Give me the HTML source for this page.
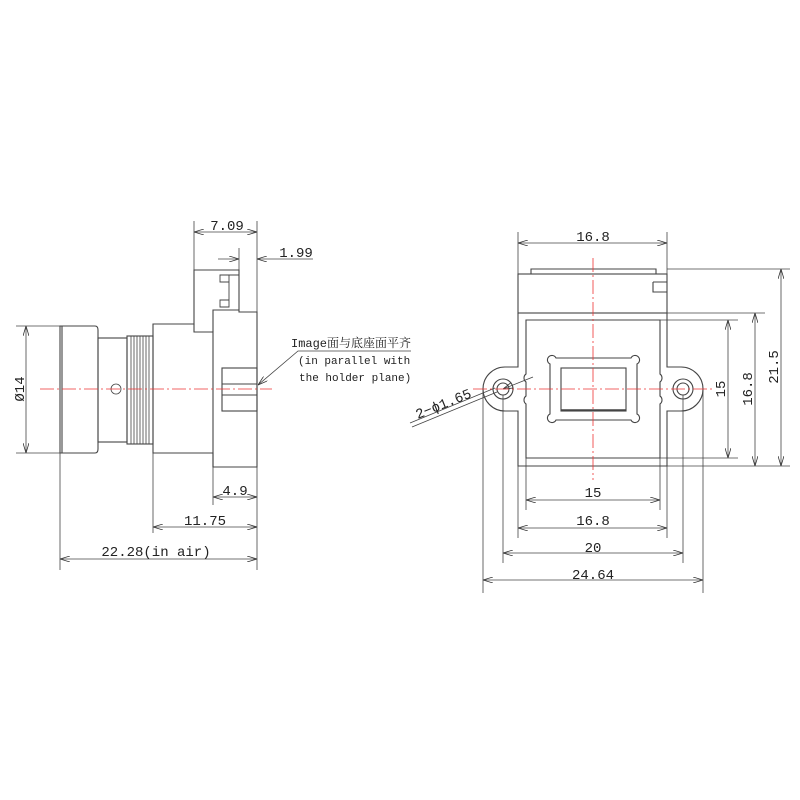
<!DOCTYPE html>
<html><head><meta charset="utf-8"><style>body{margin:0;background:#fff}svg{display:block}text{font-family:"Liberation Mono","Noto Serif CJK SC",monospace;fill:#222}</style></head><body>
<svg width="800" height="800" viewBox="0 0 800 800" xmlns="http://www.w3.org/2000/svg">
<defs><marker id="a" viewBox="0 0 10 6" refX="10" refY="3" markerWidth="10" markerHeight="6" orient="auto-start-reverse" markerUnits="userSpaceOnUse"><path d="M0,0L10,3L0,6" fill="none" stroke="#333" stroke-width="0.8"/></marker></defs>
<g stroke="#444" stroke-width="1.1" fill="none">
<path d="M60,326 H95 Q98,326 98,330 V449 Q98,453 95,453 H60 Z"/>
<line x1="62" y1="326" x2="62" y2="453"/>
<rect x="98" y="338" width="29" height="104"/>
<rect x="127" y="336" width="26" height="108"/>
<g stroke-width="0.8"><line x1="131" y1="336" x2="131" y2="444"/><line x1="134" y1="336" x2="134" y2="444"/><line x1="137" y1="336" x2="137" y2="444"/><line x1="140" y1="336" x2="140" y2="444"/><line x1="143" y1="336" x2="143" y2="444"/><line x1="146" y1="336" x2="146" y2="444"/><line x1="149" y1="336" x2="149" y2="444"/></g>
<path d="M153,324 H194 V270 H239 V312 H257 V467 H213 V453 H153 Z"/>
<path d="M194,324 V332 H213 V467"/>
<path d="M213,332 V310 H239"/>
<path d="M239,275 H229 V282 H220 V275 H229 M229,300 V307 H220 V300 H229 V282" stroke-width="0.9"/>
<rect x="222" y="368" width="35" height="43"/>
<line x1="222" y1="384" x2="257" y2="384"/><line x1="222" y1="395" x2="257" y2="395"/>
<circle cx="116" cy="389" r="5" stroke-width="0.8"/>
<g stroke-width="0.8">
<line x1="16" y1="326" x2="60" y2="326"/><line x1="16" y1="453" x2="60" y2="453"/>
<line x1="26" y1="326" x2="26" y2="453" marker-start="url(#a)" marker-end="url(#a)"/>
<line x1="194" y1="221" x2="194" y2="270"/><line x1="257" y1="221" x2="257" y2="570"/>
<line x1="194" y1="232" x2="257" y2="232" marker-start="url(#a)" marker-end="url(#a)"/>
<line x1="239" y1="248" x2="239" y2="270"/>
<line x1="218" y1="259" x2="239" y2="259" marker-end="url(#a)"/>
<line x1="313" y1="259" x2="257" y2="259" marker-end="url(#a)"/>
<line x1="213" y1="467" x2="213" y2="505"/>
<line x1="213" y1="497" x2="257" y2="497" marker-start="url(#a)" marker-end="url(#a)"/>
<line x1="153" y1="453" x2="153" y2="533"/>
<line x1="153" y1="527" x2="257" y2="527" marker-start="url(#a)" marker-end="url(#a)"/>
<line x1="60" y1="453" x2="60" y2="570"/>
<line x1="60" y1="559" x2="257" y2="559" marker-start="url(#a)" marker-end="url(#a)"/>
<polyline points="411,351 298,351 258,385" marker-end="url(#a)"/>
</g>
<path d="M531,274 V269 H656 V274"/>
<rect x="518" y="274" width="149" height="39"/>
<path d="M653,282 H667 M653,282 V292 H667"/>
<path d="M518,313 V367 H505 A22,22 0 0 0 505,411 H518 V466 H667 V411 H681 A22,22 0 0 0 681,367 H667 V313"/>
<path d="M526,458 V404 A5,5 0 0 1 526,396 V382 A5,5 0 0 1 526,374 V320 H660 V374 A5,5 0 0 1 660,382 V396 A5,5 0 0 1 660,404 V458 Z"/>
<circle cx="503" cy="389" r="10"/><circle cx="503" cy="389" r="6"/>
<circle cx="683" cy="389" r="10"/><circle cx="683" cy="389" r="6"/>
<path d="M556,358 H631 A4.5,4.5 0 1 1 637,364 V414 A4.5,4.5 0 1 1 631,420 H556 A4.5,4.5 0 1 1 550,414 V364 A4.5,4.5 0 1 1 556,358 Z"/>
<rect x="561" y="368" width="65" height="43"/>
<line x1="561" y1="410" x2="626" y2="410" stroke-width="1.5"/>
<g stroke-width="0.8">
<line x1="518" y1="232" x2="518" y2="274"/><line x1="667" y1="232" x2="667" y2="274"/>
<line x1="518" y1="243" x2="667" y2="243" marker-start="url(#a)" marker-end="url(#a)"/>
<line x1="660" y1="320" x2="738" y2="320"/><line x1="660" y1="458" x2="738" y2="458"/>
<line x1="728" y1="320" x2="728" y2="458" marker-start="url(#a)" marker-end="url(#a)"/>
<line x1="667" y1="313" x2="765" y2="313"/><line x1="667" y1="466" x2="790" y2="466"/>
<line x1="755" y1="313" x2="755" y2="466" marker-start="url(#a)" marker-end="url(#a)"/>
<line x1="667" y1="269" x2="790" y2="269"/>
<line x1="781" y1="269" x2="781" y2="466" marker-start="url(#a)" marker-end="url(#a)"/>
<line x1="526" y1="458" x2="526" y2="510"/><line x1="660" y1="458" x2="660" y2="510"/>
<line x1="526" y1="500" x2="660" y2="500" marker-start="url(#a)" marker-end="url(#a)"/>
<line x1="518" y1="466" x2="518" y2="538"/><line x1="667" y1="466" x2="667" y2="538"/>
<line x1="518" y1="528" x2="667" y2="528" marker-start="url(#a)" marker-end="url(#a)"/>
<line x1="503" y1="395" x2="503" y2="563"/><line x1="683" y1="395" x2="683" y2="563"/>
<line x1="503" y1="553" x2="683" y2="553" marker-start="url(#a)" marker-end="url(#a)"/>
<line x1="483" y1="389" x2="483" y2="593"/><line x1="703" y1="389" x2="703" y2="593"/>
<line x1="483" y1="580" x2="703" y2="580" marker-start="url(#a)" marker-end="url(#a)"/>
<line x1="533" y1="377" x2="503" y2="389" marker-end="url(#a)"/>
<line x1="412" y1="427" x2="497" y2="392"/>
<line x1="410" y1="423" x2="495" y2="388"/>
</g>
</g>
<g stroke="#e33" stroke-width="0.8" stroke-dasharray="14,3,2,3" fill="none">
<line x1="40" y1="389" x2="272" y2="389"/>
<line x1="593" y1="258" x2="593" y2="480"/>
<line x1="473" y1="389" x2="715" y2="389"/>
</g>
<g font-size="14">
<text x="227" y="230" text-anchor="middle">7.09</text>
<text x="296" y="257" text-anchor="middle">1.99</text>
<text x="235" y="495" text-anchor="middle">4.9</text>
<text x="205" y="525" text-anchor="middle">11.75</text>
<text x="156" y="556" text-anchor="middle">22.28(in air)</text>
<text transform="translate(24,389) rotate(-90)" text-anchor="middle">Ø14</text>
<text x="593" y="241" text-anchor="middle">16.8</text>
<text x="593" y="497" text-anchor="middle">15</text>
<text x="593" y="525" text-anchor="middle">16.8</text>
<text x="593" y="552" text-anchor="middle">20</text>
<text x="593" y="579" text-anchor="middle">24.64</text>
<text transform="translate(725,389) rotate(-90)" text-anchor="middle">15</text>
<text transform="translate(752,389) rotate(-90)" text-anchor="middle">16.8</text>
<text transform="translate(778,367) rotate(-90)" text-anchor="middle">21.5</text>
<text transform="translate(445,408) rotate(-22)" text-anchor="middle" font-family="Liberation Sans, sans-serif" fill="#555">2−ϕ1.65</text>
</g>
<g font-size="12">
<text x="291" y="347">Image面与底座面平齐</text>
<text x="298" y="364" font-size="11">(in parallel with</text>
<text x="299" y="381" font-size="11">the holder plane)</text>
</g>
</svg>
</body></html>
